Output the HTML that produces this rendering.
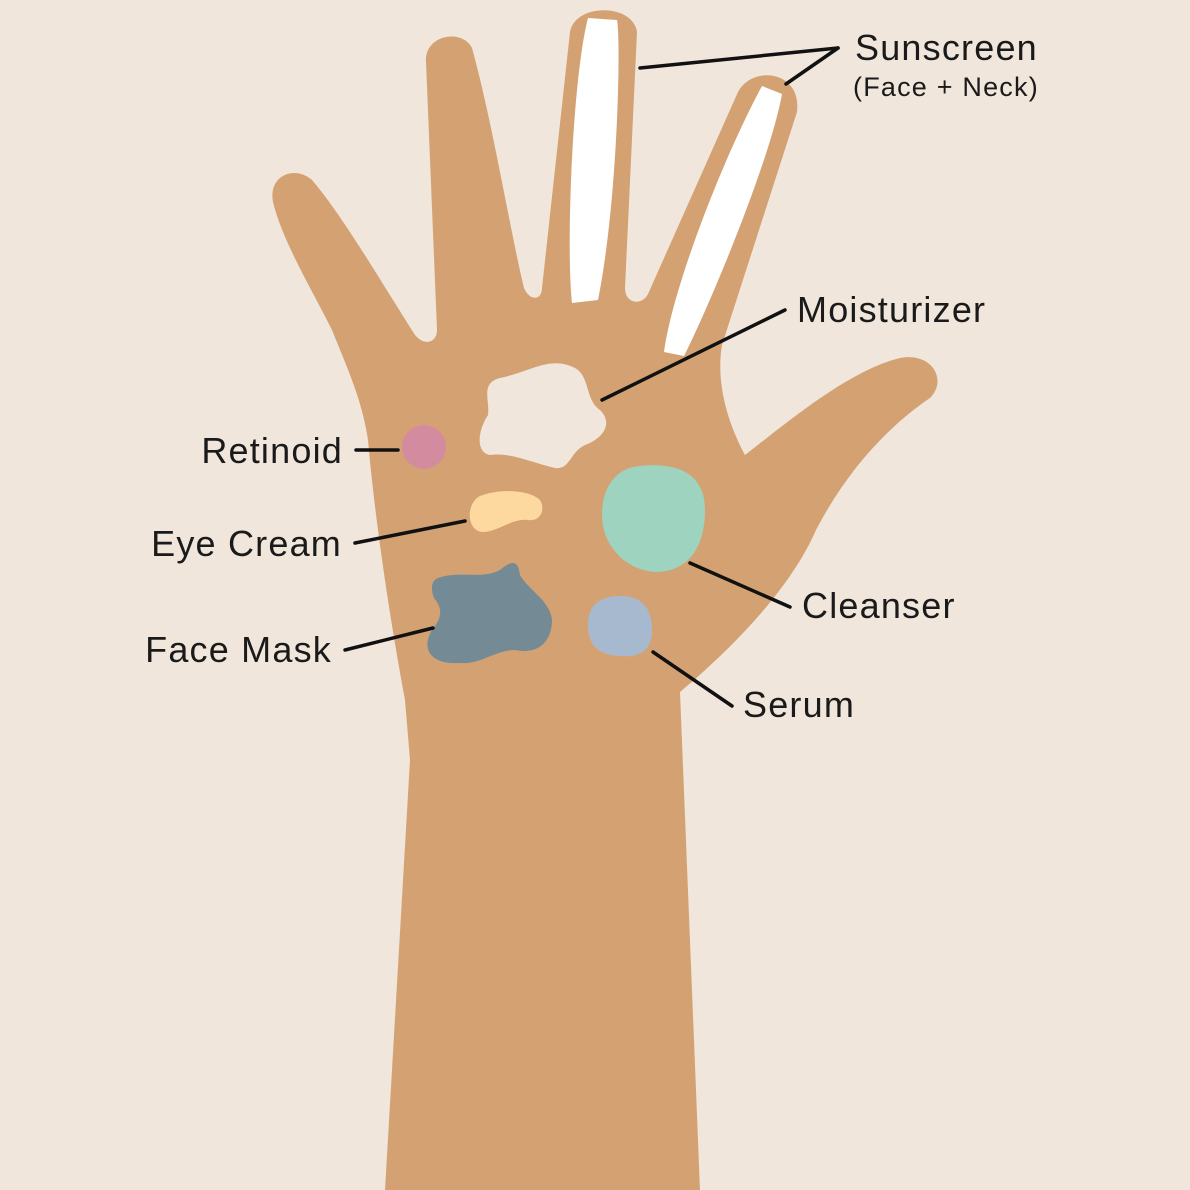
<!DOCTYPE html>
<html><head><meta charset="utf-8"><style>
html,body{margin:0;padding:0;background:#f0e6dc}
svg{display:block}
text{font-family:"Liberation Sans",sans-serif;fill:#1a1a1a;letter-spacing:1.2px}
</style></head><body>
<svg width="1190" height="1190" viewBox="0 0 1190 1190" xmlns="http://www.w3.org/2000/svg">
<rect width="1190" height="1190" fill="#f0e6dc"/>
<path fill="#d4a272" d="M385,1190 L410,760 L405,700 C390,620 375,520 368,440 C362,400 348,370 332,330 C312,290 282,240 273,202 C268,175 295,165 312,180 C342,215 380,280 415,335 C425,347 437,342 437,330 L426,62 C424,35 462,28 472,48 C492,120 510,230 524,288 C530,302 542,300 542,288 L570,32 C575,3 633,3 637,32 L625,288 C625,304 642,306 648,294 L738,92 C752,65 802,70 797,112 L722,345 C716,380 726,420 745,455 C790,420 850,370 900,358 C932,352 948,380 930,398 C880,432 842,480 816,530 C790,590 730,650 680,692 L700,1190 Z"/>
<path fill="#ffffff" d="M588,18 L617,20 C621,40 618,200 598,300 L572,303 C566,250 572,80 588,18 Z"/>
<path fill="#ffffff" d="M762,86 L782,94 C770,160 712,300 684,356 L664,352 C672,290 722,160 762,86 Z"/>
<path fill="#f0e6dc" d="M500,378 C530,372 550,355 575,368 C590,376 585,400 600,410 C615,425 600,440 585,445 C570,452 570,470 555,468 C530,462 510,452 490,455 C475,452 478,430 488,415 C490,400 480,383 500,378 Z"/>
<circle cx="424" cy="447" r="22" fill="#d38ba0"/>
<path fill="#fdd9a0" d="M480,496 C500,488 530,490 540,500 C546,510 540,522 528,520 C512,518 498,532 482,532 C466,530 466,503 480,496 Z"/>
<path fill="#748b96" d="M438,578 C460,570 480,580 500,570 C512,560 518,560 520,575 C528,590 550,600 552,620 C552,640 540,655 515,650 C495,650 480,665 460,663 C432,665 420,650 432,630 C445,615 440,605 434,598 C430,588 432,580 438,578 Z"/>
<path fill="#9dd3bf" d="M640,466 C680,462 705,475 705,510 C705,545 690,572 655,572 C625,570 602,545 602,515 C602,488 615,468 640,466 Z"/>
<path fill="#a7b9cf" d="M620,596 C645,596 652,612 652,630 C652,650 640,658 620,656 C598,655 588,645 588,625 C588,605 600,596 620,596 Z"/>
<g stroke="#111" stroke-width="3.5" fill="none" stroke-linecap="round">
<line x1="640" y1="68" x2="838" y2="48"/>
<line x1="786" y1="84" x2="838" y2="48"/>
<line x1="602" y1="400" x2="785" y2="310"/>
<line x1="356" y1="450" x2="398" y2="450"/>
<line x1="355" y1="543" x2="465" y2="521"/>
<line x1="345" y1="650" x2="433" y2="628"/>
<line x1="690" y1="563" x2="790" y2="607"/>
<line x1="653" y1="652" x2="732" y2="706"/>
</g>
<text x="855" y="60" font-size="36">Sunscreen</text>
<text x="853" y="96" font-size="27">(Face + Neck)</text>
<text x="797" y="322" font-size="36">Moisturizer</text>
<text x="343" y="463" font-size="36" text-anchor="end">Retinoid</text>
<text x="342" y="556" font-size="36" text-anchor="end">Eye Cream</text>
<text x="332" y="662" font-size="36" text-anchor="end">Face Mask</text>
<text x="802" y="618" font-size="36">Cleanser</text>
<text x="743" y="717" font-size="36">Serum</text>
</svg>
</body></html>
